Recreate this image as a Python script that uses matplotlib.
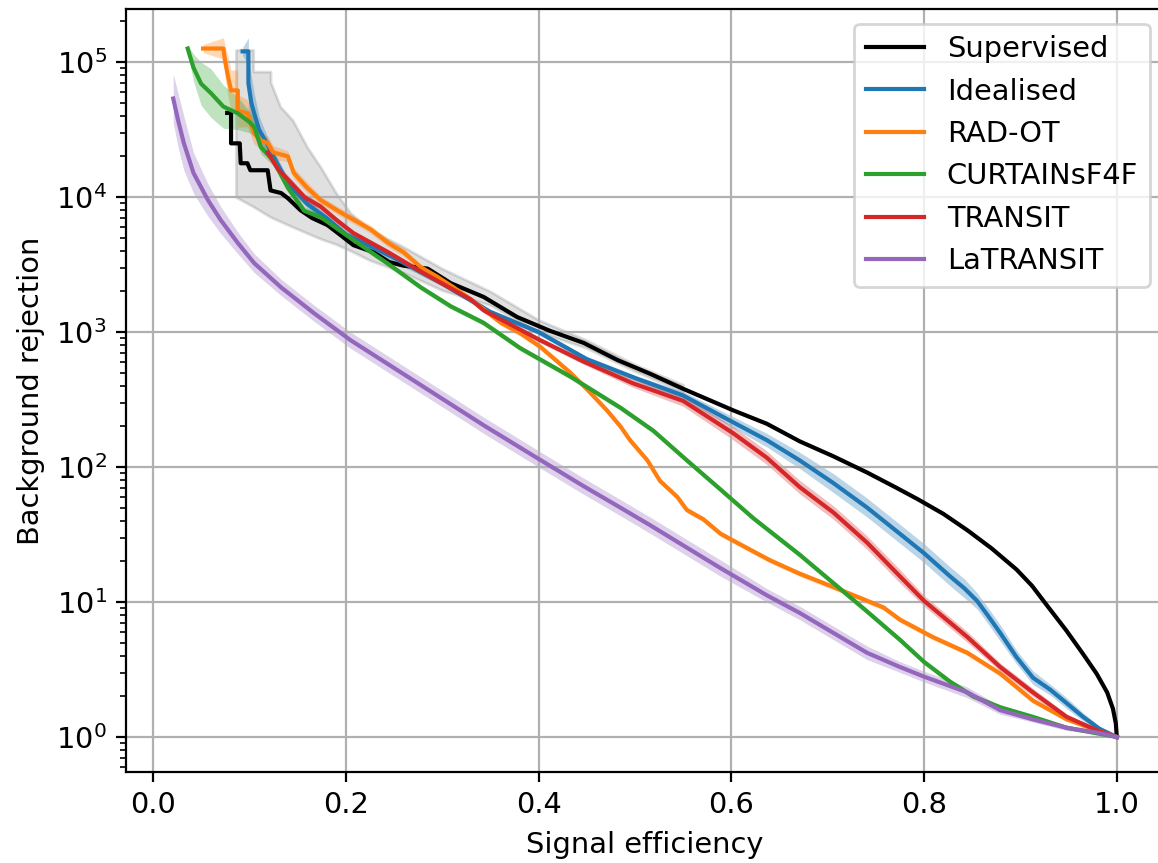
import numpy as np
import matplotlib
matplotlib.use("Agg")
import matplotlib.pyplot as plt

# Signal efficiency / background rejection
sup_x = [0.077, 0.081, 0.081, 0.09, 0.091, 0.098, 0.101, 0.119, 0.122, 0.133, 0.14, 0.153,
         0.165, 0.181, 0.195, 0.208, 0.229, 0.245, 0.26, 0.285, 0.309, 0.343, 0.378, 0.412,
         0.447, 0.482, 0.516, 0.55, 0.602, 0.637, 0.671, 0.706, 0.741, 0.77, 0.793, 0.82,
         0.845, 0.87, 0.896, 0.912, 0.927, 0.948, 0.965, 0.979, 0.99, 0.996, 0.999, 1.0]
sup_y = [42000, 42000, 25000, 25000, 17800, 17800, 15800, 15800, 11200, 10700, 9800, 8000,
         7000, 6200, 5200, 4400, 3900, 3300, 3100, 2950, 2300, 1820, 1290, 1020,
         830, 620, 490, 380, 263, 209, 155, 120, 91, 71, 58, 45,
         34, 25, 17.4, 13.2, 9.55, 6.1, 4.12, 2.95, 2.14, 1.62, 1.26, 1.0]

# grey uncertainty band of the supervised classifier
sup_band_x = [0.086, 0.104, 0.104, 0.122, 0.122, 0.132, 0.145, 0.16, 0.174, 0.19, 0.205,
              0.225, 0.26, 0.3, 0.35, 0.4, 0.45, 0.5, 0.55]
sup_band_lo = [10000, 8500, 8500, 7100, 7100, 6600, 6000, 5400, 4900, 4470, 4000,
               3400, 2750, 2040, 1580, 1000, 760, 513, 363]
sup_band_hi = [123000, 123000, 85000, 85000, 71000, 46800, 37000, 23400, 16600, 10700, 7600,
               5750, 4270, 2950, 2000, 1230, 870, 575, 407]

ideal_x = [0.093, 0.099, 0.099, 0.102, 0.105, 0.11, 0.118, 0.125, 0.14, 0.16, 0.18, 0.2,
           0.25, 0.3, 0.35, 0.4, 0.45, 0.5, 0.55, 0.599, 0.637, 0.671, 0.706, 0.741,
           0.775, 0.8, 0.827, 0.842, 0.855, 0.867, 0.879, 0.896, 0.913, 0.931, 0.948, 0.965,
           0.982, 1.0]
ideal_y = [120000, 120000, 70000, 50000, 41700, 31600, 25100, 20000, 12600, 8900, 7000, 5300,
           3550, 2290, 1410, 1000, 630, 457, 339, 220, 158, 112, 76, 50,
           32, 23, 15.5, 12.6, 10.2, 7.8, 5.9, 3.9, 2.75, 2.24, 1.78, 1.41,
           1.15, 1.0]
ideal_w = [0.03, 0.1, 0.2, 0.2, 0.15, 0.1, 0.06, 0.05, 0.04, 0.03, 0.03, 0.03,
           0.03, 0.02, 0.02, 0.02, 0.02, 0.02, 0.03, 0.04, 0.05, 0.06, 0.07, 0.07,
           0.07, 0.07, 0.07, 0.07, 0.06, 0.06, 0.06, 0.05, 0.05, 0.04, 0.04, 0.03,
           0.02, 0.0]

radot_x = [0.052, 0.073, 0.075, 0.078, 0.081, 0.088, 0.088, 0.098, 0.105, 0.112, 0.119,
           0.125, 0.14, 0.146, 0.16, 0.174, 0.192, 0.208, 0.226, 0.244, 0.26, 0.278, 0.295,
           0.312, 0.33, 0.361, 0.381, 0.402, 0.433, 0.451, 0.471, 0.485, 0.495, 0.513, 0.526,
           0.544, 0.554, 0.571, 0.589, 0.606, 0.64, 0.671, 0.706, 0.741, 0.758, 0.775, 0.809,
           0.845, 0.879, 0.913, 0.948, 0.982, 1.0]
radot_y = [126000, 126000, 100000, 77600, 61700, 61700, 43600, 41700, 29500, 26300, 25100,
           21400, 20000, 15100, 11700, 9500, 7900, 6800, 5750, 4570, 3900, 3020, 2570,
           2140, 1740, 1170, 980, 776, 500, 372, 263, 200, 158, 112, 79,
           60, 48, 41, 32, 27.5, 20.4, 16.2, 12.9, 10.2, 9.1, 7.4, 5.5,
           4.2, 2.95, 1.86, 1.35, 1.1, 1.0]
radot_w = [0.03, 0.08, 0.12, 0.15, 0.15, 0.15, 0.12, 0.1, 0.08, 0.06, 0.05,
           0.05, 0.04, 0.04, 0.04, 0.03, 0.03, 0.03, 0.03, 0.03, 0.03, 0.02, 0.02,
           0.02, 0.02, 0.02, 0.02, 0.02, 0.02, 0.02, 0.02, 0.02, 0.02, 0.02, 0.02,
           0.02, 0.02, 0.02, 0.02, 0.02, 0.02, 0.02, 0.02, 0.02, 0.02, 0.02, 0.02,
           0.02, 0.02, 0.02, 0.01, 0.01, 0.0]

curtains_x = [0.036, 0.042, 0.05, 0.06, 0.073, 0.088, 0.1, 0.105, 0.112, 0.125, 0.14,
              0.157, 0.174, 0.208, 0.244, 0.278, 0.309, 0.343, 0.381, 0.433, 0.485, 0.519,
              0.554, 0.589, 0.623, 0.671, 0.706, 0.741, 0.775, 0.8, 0.827, 0.851, 0.879,
              0.913, 0.948, 1.0]
curtains_y = [126000, 91000, 69000, 59000, 46800, 41700, 36000, 33100, 23400, 18600, 11700,
              7900, 7100, 4800, 3200, 2140, 1550, 1170, 760, 468, 275, 186,
              112, 68, 41.7, 22.4, 13.8, 8.5, 5.25, 3.6, 2.57, 2.0, 1.66,
              1.41, 1.17, 1.0]
curtains_w = [0.03, 0.1, 0.16, 0.18, 0.16, 0.12, 0.08, 0.06, 0.05, 0.04, 0.03,
              0.03, 0.03, 0.02, 0.02, 0.02, 0.02, 0.02, 0.02, 0.02, 0.02, 0.02,
              0.02, 0.02, 0.02, 0.02, 0.02, 0.02, 0.02, 0.02, 0.02, 0.02, 0.02,
              0.01, 0.01, 0.0]

transit_x = [0.119, 0.13, 0.14, 0.157, 0.174, 0.19, 0.208, 0.244, 0.278, 0.33, 0.343,
             0.399, 0.447, 0.498, 0.55, 0.602, 0.637, 0.671, 0.706, 0.741, 0.775, 0.8,
             0.845, 0.879, 0.913, 0.948, 0.982, 1.0]
transit_y = [21400, 16000, 13500, 10000, 8500, 6800, 5400, 3900, 2800, 1740, 1450,
             890, 603, 417, 309, 178, 117, 71, 46, 27.5, 15.5, 10.2,
             5.5, 3.3, 2.14, 1.41, 1.1, 1.0]
transit_w = [0.03, 0.03, 0.03, 0.03, 0.02, 0.02, 0.02, 0.02, 0.02, 0.02, 0.02,
             0.02, 0.02, 0.03, 0.04, 0.05, 0.05, 0.05, 0.05, 0.05, 0.05, 0.04,
             0.04, 0.03, 0.03, 0.02, 0.01, 0.0]

latransit_x = [0.021, 0.026, 0.032, 0.042, 0.057, 0.07, 0.088, 0.105, 0.133, 0.167, 0.205,
               0.275, 0.343, 0.4, 0.447, 0.485, 0.516, 0.55, 0.589, 0.637, 0.671,
               0.706, 0.741, 0.775, 0.8, 0.845, 0.879, 0.913, 0.948, 0.982, 1.0]
latransit_y = [53700, 37200, 25100, 15100, 9500, 6800, 4570, 3240, 2140, 1380, 870,
               417, 204, 115, 72, 50, 37, 26.3, 17.8, 11.2, 8.3,
               5.9, 4.2, 3.3, 2.8, 2.14, 1.58, 1.35, 1.17, 1.07, 1.0]
latransit_w = [0.18, 0.2, 0.2, 0.15, 0.12, 0.1, 0.08, 0.07, 0.06, 0.06, 0.06,
               0.06, 0.06, 0.06, 0.06, 0.06, 0.06, 0.06, 0.06, 0.05, 0.05,
               0.05, 0.05, 0.04, 0.04, 0.04, 0.03, 0.02, 0.02, 0.01, 0.0]

plt.rcParams["font.size"] = 10.4

fig = plt.figure(figsize=(5.79, 4.315), dpi=200)
# right spine sits just past the image edge, like the cropped original
ax = fig.add_axes([0.1088, 0.1054, 0.8964, 0.8841])

# supervised line and its grey band
ax.fill_between(sup_band_x, sup_band_lo, sup_band_hi, color="k", alpha=0.12)
ax.plot(sup_x, sup_y, color="k", label="Supervised")

series = [
    (ideal_x, ideal_y, ideal_w, "C0", "Idealised"),
    (radot_x, radot_y, radot_w, "C1", "RAD-OT"),
    (curtains_x, curtains_y, curtains_w, "C2", "CURTAINsF4F"),
    (transit_x, transit_y, transit_w, "C3", "TRANSIT"),
    (latransit_x, latransit_y, latransit_w, "C4", "LaTRANSIT"),
]
for x, y, w, c, lab in series:
    y = np.array(y, dtype=float)
    w = np.array(w)
    ax.fill_between(x, y / 10**w, y * 10**w, color=c, alpha=0.3, linewidth=0)
    ax.plot(x, y, color=c, label=lab)

ax.set_yscale("log")
ax.set_xlim(-0.028, 1.049)
ax.set_ylim(0.55, 2.47e5)
ax.set_xticks([0.0, 0.2, 0.4, 0.6, 0.8, 1.0])
ax.set_xlabel("Signal efficiency")
ax.set_ylabel("Background rejection")
ax.grid(True, which="major")
ax.legend(loc="upper right")

fig.savefig("out.png", dpi=200)
